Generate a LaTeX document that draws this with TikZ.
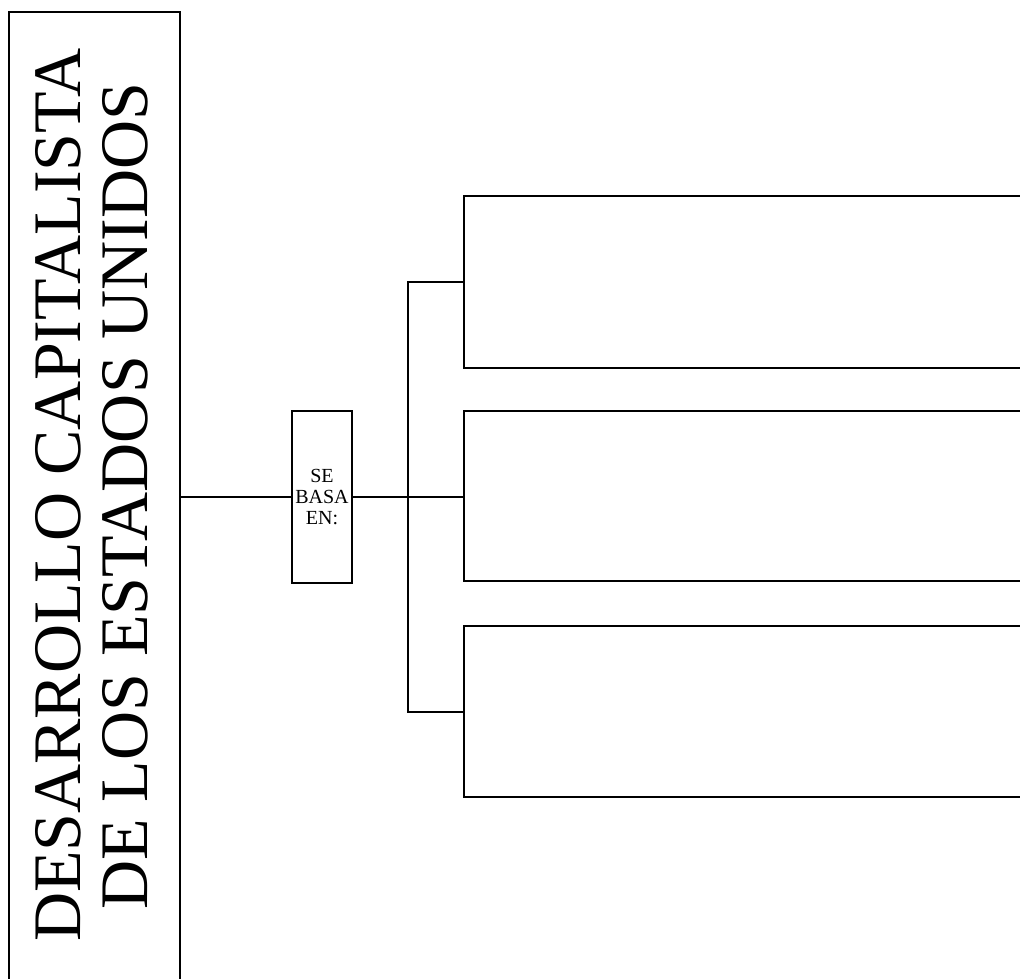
\documentclass[tikz,border=0pt]{standalone}
\usepackage{fontspec}
\setmainfont{Liberation Serif}
\begin{document}
\begin{tikzpicture}[x=0.75pt,y=-0.75pt,
  frame/.style={draw=black, line width=1.5pt, rectangle, inner sep=0pt},
  titletext/.style={rotate=90, anchor=base, inner sep=0pt, font=\fontsize{51}{50}\selectfont},
  smalltext/.style={align=center, font=\fontsize{15}{15.5}\selectfont},
  link/.style={draw=black, line width=1.5pt}]
\useasboundingbox (0,0) rectangle (1020,978);
\clip (0,0) rectangle (1020,978);
% title box
\node[frame, minimum width=128.25pt, minimum height=750pt] (title) at (94.5,512) {};
\node[titletext] (t1) at (80,495) {DESARROLLO CAPITALISTA};
\node[titletext] (t2) at (147,496) {DE LOS ESTADOS UNIDOS};
% se basa en
\node[frame, minimum width=45pt, minimum height=129pt, smalltext] (sebasa) at (322,497) {SE\\BASA\\EN:};
% right boxes
\node[frame, minimum width=477pt, minimum height=129pt] (b1) at (782,282) {};
\node[frame, minimum width=477pt, minimum height=127.5pt] (b2) at (782,496) {};
\node[frame, minimum width=477pt, minimum height=128.25pt] (b3) at (782,711.5) {};
\coordinate (jn) at (408,495);
% connectors
\draw[link] (sebasa.west) -- (sebasa.west -| title.east);
\draw[link] (sebasa.east) -- (sebasa.east -| b2.west);
\draw[link] (b1.west) -- (b1.west -| jn) -- (b3.west -| jn) -- (b3.west);
\end{tikzpicture}
\end{document}
